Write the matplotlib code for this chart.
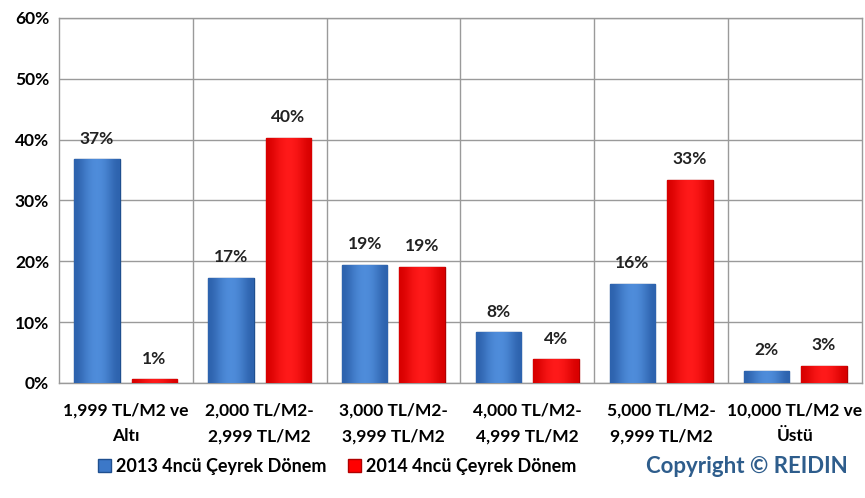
import numpy as np
import matplotlib.pyplot as plt
from matplotlib.colors import LinearSegmentedColormap

categories = ["1,999 TL/M2 ve\nAltı", "2,000 TL/M2-\n2,999 TL/M2", "3,000 TL/M2-\n3,999 TL/M2",
              "4,000 TL/M2-\n4,999 TL/M2", "5,000 TL/M2-\n9,999 TL/M2", "10,000 TL/M2 ve\nÜstü"]
q4_2013 = [36.8, 17.3, 19.4, 8.3, 16.3, 2.0]
q4_2014 = [0.6, 40.3, 19.1, 3.9, 33.4, 2.8]
series_names = ["2013 4ncü Çeyrek Dönem", "2014 4ncü Çeyrek Dönem"]

plt.rcParams['font.family'] = ['Lato', 'DejaVu Sans']

fig = plt.figure(figsize=(8.65, 4.98), dpi=100)
ax = fig.add_axes([0.068, 0.231, 0.9285, 0.733])

x = np.arange(len(categories))
w = 0.34
off = 0.215
b1 = ax.bar(x - off, q4_2013, w, color="#3c78c8", edgecolor="#1f4f8f", linewidth=1, zorder=3)
b2 = ax.bar(x + off, q4_2014, w, color="#ff0000", edgecolor="#b00000", linewidth=1, zorder=3)

# bevel-like shading inside each bar
shade = np.array([0.0, 0.6, 1.0, 1.0, 0.6, 0.0])[None, :]
cmaps = [LinearSegmentedColormap.from_list("b", ["#2d62ad", "#4f8ddb"]),
         LinearSegmentedColormap.from_list("r", ["#d80000", "#ff1a1a"])]
for bars, cm in zip((b1, b2), cmaps):
    for b in bars:
        x0, h = b.get_x(), b.get_height()
        im = ax.imshow(shade, cmap=cm, aspect="auto", interpolation="bicubic",
                       extent=(x0, x0 + b.get_width(), 0, h), zorder=3.5)
        im.set_clip_path(b)

for bars, vals in ((b1, q4_2013), (b2, q4_2014)):
    for b, v in zip(bars, vals):
        ax.annotate("%d%%" % round(v), (b.get_x() + b.get_width() / 2, v),
                    xytext=(0, 9), textcoords="offset points", ha="center", va="bottom",
                    fontsize=12.5, fontweight="bold", color="#222222")

ax.set_xlim(-0.5, len(categories) - 0.5)
ax.set_ylim(0, 60)
ax.set_yticks(range(0, 61, 10))
ax.set_yticklabels(["%d%%" % t for t in range(0, 61, 10)], fontsize=12.5, fontweight="bold")
ax.set_xticks(x)
ax.set_xticklabels(categories, fontsize=12.5, fontweight="bold", linespacing=1.75)
ax.tick_params(length=0, pad=7)
ax.tick_params(axis="x", pad=14)

# horizontal grid plus category separators
ax.yaxis.grid(True, color="#9a9a9a", linewidth=1, zorder=0)
for s in np.arange(0.5, len(categories) - 0.5):
    ax.axvline(s, color="#9a9a9a", linewidth=1, zorder=0)
for side in ax.spines.values():
    side.set_color("#9a9a9a")
    side.set_linewidth(1)

leg = fig.legend([b1, b2], series_names, loc="center", bbox_to_anchor=(0.39, 0.063), ncol=2,
                 frameon=False, fontsize=13, handlelength=0.7, handleheight=0.7,
                 handletextpad=0.3, columnspacing=1.2)
for t in leg.get_texts():
    t.set_fontweight("bold")

fig.text(0.863, 0.063, "Copyright © REIDIN", ha="center", va="center",
         fontsize=16, fontweight="bold", color="#2e5d8c")

fig.savefig("out.png")
